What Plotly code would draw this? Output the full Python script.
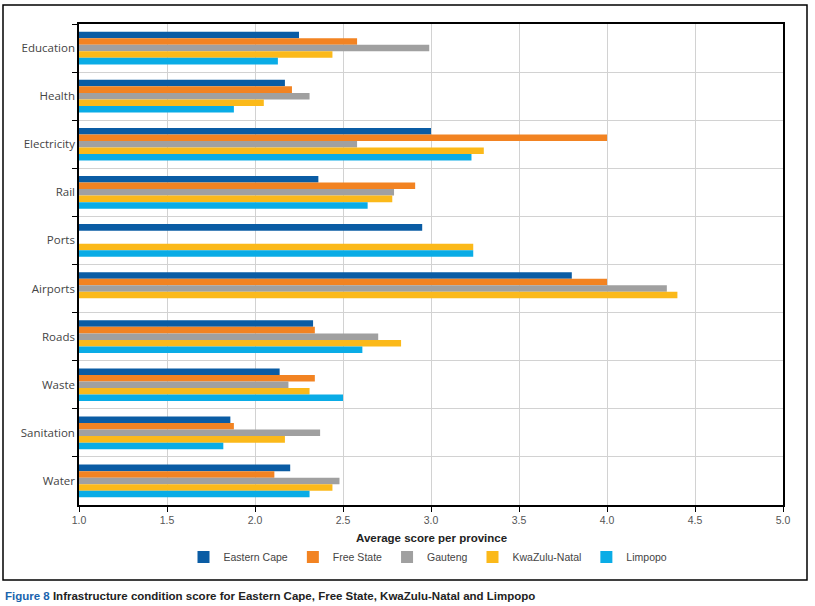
import plotly.graph_objects as go

categories = ["Education", "Health", "Electricity", "Rail", "Ports", "Airports",
              "Roads", "Waste", "Sanitation", "Water"]
provinces = ["Eastern Cape", "Free State", "Gauteng", "KwaZulu-Natal", "Limpopo"]

eastern_cape = [2.25, 2.17, 3.00, 2.36, 2.95, 3.80, 2.33, 2.14, 1.86, 2.20]
free_state = [2.58, 2.21, 4.00, 2.91, None, 4.00, 2.34, 2.34, 1.88, 2.11]
gauteng = [2.99, 2.31, 2.58, 2.79, None, 4.34, 2.70, 2.19, 2.37, 2.48]
kwazulu_natal = [2.44, 2.05, 3.30, 2.78, 3.24, 4.40, 2.83, 2.31, 2.17, 2.44]
limpopo = [2.13, 1.88, 3.23, 2.64, 3.24, None, 2.61, 2.50, 1.82, 2.31]

x_ticks = [1.0, 1.5, 2.0, 2.5, 3.0, 3.5, 4.0, 4.5, 5.0]
x_tick_labels = ["1.0", "1.5", "2.0", "2.5", "3.0", "3.5", "4.0", "4.5", "5.0"]

colors = ["#0a5ca4", "#f28322", "#a0a0a0", "#fbb91a", "#0aace6"]
series = [eastern_cape, free_state, gauteng, kwazulu_natal, limpopo]

W, H = 815, 606
L, R, T, B = 79, 32, 24, 101
pw, ph = W - L - R, H - T - B

def px_x(x):
    return (x - L) / pw

def px_y(y):
    return (H - B - y) / ph

fig = go.Figure()
for name, vals, c in zip(provinces, series, colors):
    fig.add_trace(go.Bar(
        y=categories, x=[None if v is None else v - 1.0 for v in vals],
        base=1.0, orientation="h", name=name,
        marker=dict(color=c, line=dict(width=0)),
    ))

fig.update_layout(
    width=W, height=H,
    margin=dict(l=L, r=R, t=T, b=B),
    paper_bgcolor="white", plot_bgcolor="white",
    barmode="group", bargap=0.32, bargroupgap=0,
    font=dict(family="Liberation Sans, sans-serif", color="#444444"),
    showlegend=True,
    legend=dict(orientation="h", x=px_x(428), xanchor="center", y=px_y(557), yanchor="middle",
                font=dict(size=10.5, color="#444444"), itemwidth=30, traceorder="normal",
                bgcolor="rgba(0,0,0,0)"),
    xaxis=dict(range=[1.0, 5.0], tickvals=x_ticks, ticktext=x_tick_labels,
               showgrid=True, gridcolor="#d2d2d2", gridwidth=1.2,
               showline=True, linecolor="black", linewidth=1.5, mirror=True,
               ticks="outside", ticklen=5, tickcolor="black",
               tickfont=dict(size=10.5, color="#555555"), zeroline=False),
    yaxis=dict(autorange="reversed", tickson="boundaries",
               showgrid=True, gridcolor="#d2d2d2", gridwidth=1.2,
               showline=True, linecolor="black", linewidth=1.5, mirror=True,
               ticks="outside", ticklen=5, tickcolor="black",
               tickfont=dict(family="Open Sans, sans-serif", size=11.5, color="#444444")),
    shapes=[dict(type="rect", xref="paper", yref="paper",
                 x0=px_x(3), x1=px_x(807), y0=px_y(580), y1=px_y(5),
                 line=dict(color="black", width=1.5), fillcolor="rgba(0,0,0,0)", layer="below")],
    annotations=[
        dict(text="<b>Average score per province</b>", xref="paper", yref="paper",
             x=px_x(431), y=px_y(538), xanchor="center", yanchor="middle", showarrow=False,
             font=dict(size=11.5, color="#222222")),
        dict(text="<b><span style='color:#1a64ad'>Figure 8</span> Infrastructure condition score for Eastern Cape, Free State, KwaZulu-Natal and Limpopo</b>",
             xref="paper", yref="paper", x=px_x(3), y=px_y(596), xanchor="left", yanchor="middle",
             showarrow=False, font=dict(size=11.5, color="#222222")),
    ],
)

fig.write_html("out.html", config={"displayModeBar": False},
               post_script="document.body.style.margin='0';document.body.style.overflow='hidden';")
